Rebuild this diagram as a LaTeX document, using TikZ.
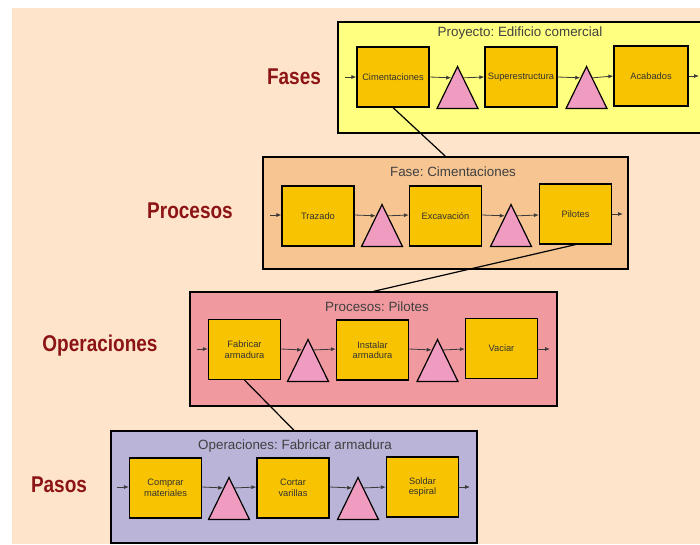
\documentclass[tikz,border=0pt]{standalone}
\usepackage{fontspec}
\setmainfont{Liberation Sans}
\usetikzlibrary{shapes.geometric,calc,arrows.meta}

\definecolor{peach}{HTML}{FFE4CC}
\definecolor{fasecol}{HTML}{FFFF80}
\definecolor{procol}{HTML}{F6C592}
\definecolor{opcol}{HTML}{F09AA0}
\definecolor{pasocol}{HTML}{B9B4D8}
\definecolor{boxgold}{HTML}{F8C300}
\definecolor{tripink}{HTML}{F09CC0}
\definecolor{levelred}{HTML}{8C1414}
\definecolor{flowgray}{HTML}{3A3A3A}

\tikzset{
  panel/.style={draw, line width=1.3pt, inner sep=0pt},
  box/.style={draw, line width=1.2pt, fill=boxgold, minimum width=72pt,
    minimum height=60pt, inner sep=1pt, align=center,
    font=\fontsize{9.3}{10.5}\selectfont, text=black!80},
  tri/.style={isosceles triangle, isosceles triangle stretches,
    shape border rotate=90, minimum width=41pt, minimum height=42pt,
    inner sep=0pt, draw, line width=1.2pt, fill=tripink},
  paneltitle/.style={font=\fontsize{13.4}{15}\selectfont, text=black!75},
  level/.style={font=\bfseries\fontsize{19}{22}\selectfont, text=levelred},
  flow/.style={draw=flowgray, line width=0.8pt, -{Latex[length=5pt,width=4pt]}},
  link/.style={line width=1.2pt}
}

\begin{document}
\frenchspacing
\begin{tikzpicture}[x=1pt,y=-1pt]
  \useasboundingbox (0,0) rectangle (700,544);
  \clip (0,0) rectangle (700,544);
  \fill[peach] (12,8) rectangle (700,544);

  % niveles
  \node[level] (fases) at (294,77) {\scalebox{1}[1.2]{Fases}};
  \node[level] (procesos) at (190,211) {\scalebox{1}[1.2]{Procesos}};
  \node[level] (operaciones) at (100,346) {\scalebox{1}[1.2]{Operaciones}};
  \node[level] (pasos) at (59,485) {\scalebox{1}[1.2]{Pasos}};

  % Proyecto
  \node[panel, fill=fasecol, minimum width=382pt, minimum height=111pt] (p1) at (529,77.5) {};
  \node[paneltitle] (p1-title) at (520,33) {Proyecto: Edificio comercial};
  \node[box] (c1) at (393,77) {Cimentaciones};
  \node[tri, anchor=apex] (t1) at (457.5,65) {};
  \node[box] (c2) at (521,77) {Superestructura};
  \node[tri, anchor=apex] (t2) at (586.5,65) {};
  \node[box, minimum width=74pt] (c3) at (651,76) {Acabados};
  \coordinate (p1-in) at (345,77);
  \coordinate (p1-out) at (699,76);
  \draw[flow] (p1-in) -- (c1.west);
  \draw[flow] (c1.east) -- ($(t1.apex)!0.29!(t1.left corner)$);
  \draw[flow] ($(t1.apex)!0.29!(t1.right corner)$) -- (c2.west);
  \draw[flow] (c2.east) -- ($(t2.apex)!0.29!(t2.left corner)$);
  \draw[flow] ($(t2.apex)!0.29!(t2.right corner)$) -- (c3.west);
  \draw[flow] (c3.east) -- (p1-out);

  % Fase
  \node[panel, fill=procol, minimum width=365pt, minimum height=112pt] (p2) at (445.5,213) {};
  \node[paneltitle] (p2-title) at (453,172) {Fase: Cimentaciones};
  \node[box] (b1) at (318,216) {Trazado};
  \node[tri, anchor=apex] (t3) at (382,203) {};
  \node[box] (b2) at (445.5,216) {Excavación};
  \node[tri, anchor=apex] (t4) at (511,203) {};
  \node[box] (b3) at (575.5,214) {Pilotes};
  \coordinate (p2-in) at (270,215);
  \coordinate (p2-out) at (623,214);
  \draw[flow] (p2-in) -- (p2-in -| b1.west);
  \draw[flow] (b1.east |- p2-in) -- ($(t3.apex)!0.29!(t3.left corner)$);
  \draw[flow] ($(t3.apex)!0.29!(t3.right corner)$) -- (b2.west |- p2-in);
  \draw[flow] (b2.east |- p2-in) -- ($(t4.apex)!0.29!(t4.left corner)$);
  \draw[flow] ($(t4.apex)!0.29!(t4.right corner)$) -- (b3.west |- p2-in);
  \draw[flow] (b3.east) -- (p2-out);

  % Procesos
  \node[panel, fill=opcol, minimum width=367pt, minimum height=114pt] (p3) at (373.5,349) {};
  \node[paneltitle] (p3-title) at (377,307) {Procesos: Pilotes};
  \node[box] (a1) at (244.5,349.5) {Fabricar\\armadura};
  \node[tri, anchor=apex] (t5) at (308,338) {};
  \node[box] (a2) at (372.5,350) {Instalar\\armadura};
  \node[tri, anchor=apex] (t6) at (437.5,338) {};
  \node[box] (a3) at (501.5,348.5) {Vaciar};
  \coordinate (p3-in) at (197,349);
  \coordinate (p3-out) at (550,349);
  \draw[flow] (p3-in) -- (p3-in -| a1.west);
  \draw[flow] (a1.east |- p3-in) -- ($(t5.apex)!0.27!(t5.left corner)$);
  \draw[flow] ($(t5.apex)!0.27!(t5.right corner)$) -- (a2.west |- p3-in);
  \draw[flow] (a2.east |- p3-in) -- ($(t6.apex)!0.27!(t6.left corner)$);
  \draw[flow] ($(t6.apex)!0.27!(t6.right corner)$) -- (a3.west |- p3-in);
  \draw[flow] (a3.east |- p3-in) -- (p3-out);

  % Operaciones
  \node[panel, fill=pasocol, minimum width=366pt, minimum height=112pt] (p4) at (294,487) {};
  \node[paneltitle] (p4-title) at (295,446) {Operaciones: Fabricar armadura};
  \node[box] (s1) at (165.5,488) {Comprar\\materiales};
  \node[tri, anchor=apex] (t7) at (229,476) {};
  \node[box] (s2) at (293,488) {Cortar\\varillas};
  \node[tri, anchor=apex] (t8) at (358,476) {};
  \node[box] (s3) at (422.5,487) {Soldar\\espiral};
  \coordinate (p4-in) at (117,487);
  \coordinate (p4-out) at (470,487);
  \draw[flow] (p4-in) -- (p4-in -| s1.west);
  \draw[flow] (s1.east |- p4-in) -- ($(t7.apex)!0.27!(t7.left corner)$);
  \draw[flow] ($(t7.apex)!0.27!(t7.right corner)$) -- (s2.west |- p4-in);
  \draw[flow] (s2.east |- p4-in) -- ($(t8.apex)!0.27!(t8.left corner)$);
  \draw[flow] ($(t8.apex)!0.27!(t8.right corner)$) -- (s3.west |- p4-in);
  \draw[flow] (s3.east) -- (p4-out);

  % enlaces entre niveles
  \draw[link] (c1.south) -- (p2.north);
  \draw[link] (b3.south) -- (p3.north);
  \draw[link] (a1.south) -- (p4.north);
\end{tikzpicture}
\end{document}
